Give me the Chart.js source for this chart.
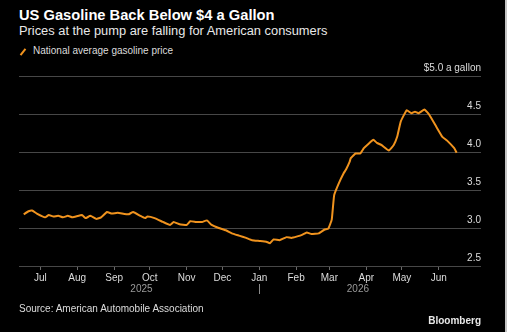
<!DOCTYPE html>
<html>
<head>
<meta charset="utf-8">
<script src="https://cdn.jsdelivr.net/npm/chart.js@4"></script>
<style>
  html, body { margin: 0; padding: 0; background: #000; }
  #wrap { position: relative; width: 507px; height: 332px; background: #000; overflow: hidden; }
  #wrap:after { content: ""; position: absolute; right: 0; top: 0; width: 2px; height: 332px; background: #c4c4c4; }
  .t { position: absolute; left: 19px; white-space: nowrap; font-family: "Liberation Sans", Arial, sans-serif; }
  #title { top: 7px; font-size: 14.7px; font-weight: bold; color: #fff; }
  #sub { top: 23px; font-size: 12.85px; color: #e8e8e8; }
  #legend { top: 45px; font-size: 10px; color: #dcdcdc; left: 33px; }
  #icon { position: absolute; left: 22px; top: 48px; width: 2px; height: 8px; background: #f0931e; transform: rotate(38deg); }
  #source { top: 303px; font-size: 10px; color: #dcdcdc; }
  #brand { top: 315px; left: auto; right: 26px; font-size: 10px; font-weight: bold; color: #e8e8e8; }
  canvas { position: absolute; left: 0; top: 0; }
</style>
</head>
<body>
<div id="wrap">
  <div class="t" id="title">US Gasoline Back Below $4 a Gallon</div>
  <div class="t" id="sub">Prices at the pump are falling for American consumers</div>
  <div id="icon"></div>
  <div class="t" id="legend">National average gasoline price</div>
  <canvas id="c" width="507" height="332"></canvas>
  <div class="t" id="source">Source: American Automobile Association</div>
  <div class="t" id="brand">Bloomberg</div>
</div>
<script>
// ---- data ----
const seriesName = "National average gasoline price";
const dates = [
  "2025-06-17","2025-06-21","2025-06-24","2025-06-28","2025-07-05","2025-07-08","2025-07-12","2025-07-16",
  "2025-07-20","2025-07-24","2025-07-28","2025-08-05","2025-08-08","2025-08-12","2025-08-17","2025-08-21",
  "2025-08-26","2025-08-30","2025-09-04","2025-09-13","2025-09-17","2025-09-23","2025-09-27","2025-09-29",
  "2025-10-05","2025-10-12","2025-10-18","2025-10-21","2025-10-26","2025-11-01","2025-11-04","2025-11-09",
  "2025-11-14","2025-11-18","2025-11-22","2025-11-28","2025-12-04","2025-12-09","2025-12-15","2025-12-21",
  "2025-12-26","2026-01-01","2026-01-07","2026-01-10","2026-01-13","2026-01-18","2026-01-24","2026-01-28",
  "2026-02-02","2026-02-06","2026-02-10","2026-02-14","2026-02-20","2026-02-25","2026-02-28","2026-03-03",
  "2026-03-05","2026-03-09","2026-03-13","2026-03-15","2026-03-18","2026-03-19","2026-03-23","2026-03-27",
  "2026-03-30","2026-04-03","2026-04-07","2026-04-10","2026-04-14","2026-04-20","2026-04-24","2026-04-27",
  "2026-04-30","2026-05-05","2026-05-09","2026-05-12","2026-05-15","2026-05-20","2026-05-24","2026-05-30",
  "2026-06-04","2026-06-08","2026-06-14","2026-06-16"
];
const prices = [
  3.18,3.22,3.23,3.19,3.14,3.17,3.15,3.16,
  3.14,3.16,3.14,3.17,3.13,3.16,3.12,3.14,
  3.21,3.19,3.20,3.18,3.21,3.16,3.13,3.15,
  3.13,3.08,3.04,3.08,3.05,3.04,3.09,3.08,
  3.08,3.10,3.04,3.00,2.97,2.93,2.90,2.87,
  2.84,2.83,2.82,2.80,2.85,2.84,2.88,2.87,
  2.89,2.91,2.94,2.92,2.93,2.98,2.99,3.11,
  3.43,3.59,3.72,3.77,3.87,3.92,3.98,3.98,
  4.05,4.11,4.16,4.12,4.09,4.02,4.09,4.20,
  4.40,4.55,4.51,4.53,4.51,4.56,4.49,4.33,
  4.20,4.15,4.05,3.99
];
const monthTickDates = ["2025-07-01","2025-08-01","2025-09-01","2025-10-01","2025-11-01","2025-12-01",
  "2026-01-01","2026-02-01","2026-03-01","2026-04-01","2026-05-01","2026-06-01"];
const monthLabels = ["Jul","Aug","Sep","Oct","Nov","Dec","Jan","Feb","Mar","Apr","May","Jun"];
const yearLabels = ["2025","2026"];
const yearBreak = "2026-01-01";
const yTicks = [2.5, 3.0, 3.5, 4.0, 4.5, 5.0];

// ---- helpers ----
const origin = Date.UTC(2025, 6, 1);
const toDay = s => (Date.parse(s) - origin) / 86400000;
const points = dates.map((d, i) => ({ x: toDay(d), y: prices[i] }));

const yearPlugin = {
  id: 'yearLabels',
  afterDraw(chart) {
    const xs = chart.scales.x, ctx = chart.ctx;
    const first = xs.getPixelForValue(toDay(dates[0]));
    const last = xs.getPixelForValue(toDay(dates[dates.length - 1]));
    const brk = xs.getPixelForValue(toDay(yearBreak));
    ctx.save();
    ctx.fillStyle = '#9a9a9a';
    ctx.font = '10px "Liberation Sans", Arial, sans-serif';
    ctx.textAlign = 'center';
    ctx.textBaseline = 'middle';
    ctx.fillText(yearLabels[0], (first + brk) / 2, 289);
    ctx.fillText(yearLabels[1], (brk + last) / 2, 289);
    ctx.strokeStyle = '#8a8a8a';
    ctx.lineWidth = 1;
    ctx.beginPath();
    ctx.moveTo(Math.round(brk) + 0.5, 284);
    ctx.lineTo(Math.round(brk) + 0.5, 294);
    ctx.stroke();
    ctx.restore();
  }
};

new Chart(document.getElementById('c'), {
  type: 'line',
  data: {
    datasets: [{
      label: seriesName,
      data: points,
      borderColor: '#f0931e',
      borderWidth: 2,
      pointRadius: 0,
      tension: 0.1,
      fill: false
    }]
  },
  options: {
    responsive: false,
    animation: false,
    layout: { padding: { left: 19, right: 26, top: 76, bottom: 36 } },
    plugins: { legend: { display: false }, tooltip: { enabled: false } },
    scales: {
      x: {
        type: 'linear',
        min: -18,
        max: 370.5,
        afterFit: s => { s.height = 30; },
        afterBuildTicks: s => { s.ticks = monthTickDates.map(d => ({ value: toDay(d) })); },
        border: { display: false },
        grid: { drawOnChartArea: false, drawTicks: true, tickLength: 4, color: '#6a6a6a' },
        ticks: {
          autoSkip: false, maxRotation: 0, padding: 2,
          color: '#dcdcdc',
          font: { family: '"Liberation Sans", Arial, sans-serif', size: 10 },
          callback: (v, i) => monthLabels[i]
        }
      },
      y: {
        position: 'right',
        min: 2.5,
        max: 5.0,
        afterFit: s => { s.width = 0; },
        afterBuildTicks: s => { s.ticks = yTicks.map(v => ({ value: v })); },
        border: { display: false },
        grid: { color: '#474747', lineWidth: 1, drawTicks: false },
        ticks: {
          mirror: true, padding: 0, labelOffset: -8,
          color: '#dcdcdc',
          font: { family: '"Liberation Sans", Arial, sans-serif', size: 10 },
          callback: v => v === 5 ? '$5.0 a gallon' : v.toFixed(1)
        }
      }
    }
  },
  plugins: [yearPlugin]
});
</script>
</body>
</html>
